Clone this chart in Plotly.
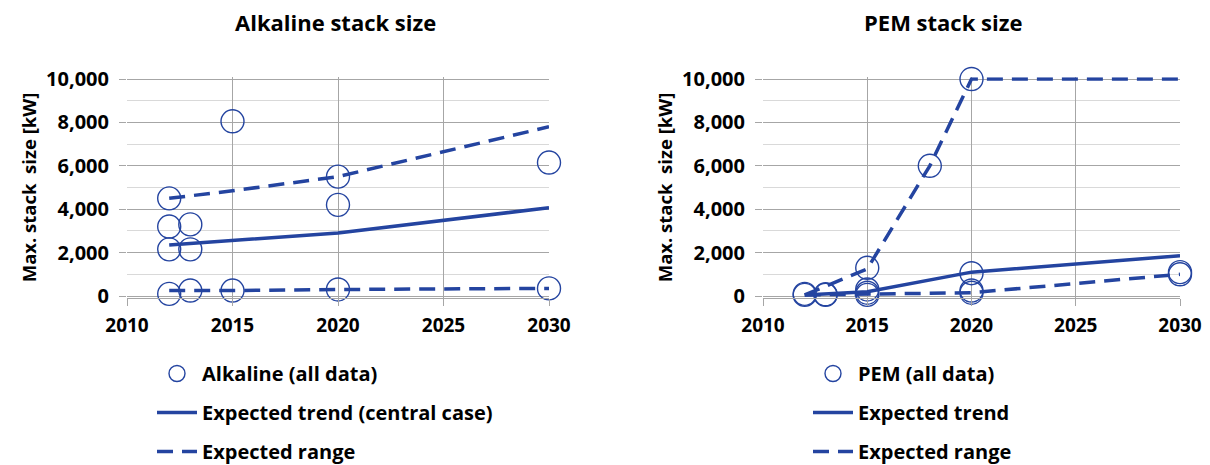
import plotly.graph_objects as go
from plotly.subplots import make_subplots

# ---------------- data ----------------
alk_years = [2012, 2012, 2012, 2012, 2013, 2013, 2013, 2015, 2015, 2020, 2020, 2020, 2030, 2030]
alk_vals = [4500, 3200, 2150, 100, 3300, 2150, 250, 8050, 250, 5500, 4200, 300, 6150, 350]

alk_line_years = [2012, 2015, 2020, 2030]
alk_trend = [2350, 2550, 2900, 4070]
alk_hi = [4500, 4850, 5500, 7800]
alk_lo = [250, 250, 300, 350]

pem_years = [2012, 2012, 2013, 2013, 2015, 2015, 2015, 2015, 2018, 2020, 2020, 2020, 2020, 2030, 2030]
pem_vals = [50, 100, 50, 80, 1300, 300, 150, 50, 6000, 10000, 1050, 250, 150, 1100, 1000]

pem_trend_years = [2012, 2015, 2020, 2030]
pem_trend = [50, 200, 1100, 1850]
pem_hi_years = [2012, 2015, 2018, 2020, 2030]
pem_hi = [50, 1250, 6000, 10000, 10000]
pem_lo_years = [2012, 2015, 2020, 2030]
pem_lo = [50, 100, 150, 1000]

titles = ["Alkaline stack size", "PEM stack size"]
y_title = "Max. stack  size [kW]"
x_ticks = [2010, 2015, 2020, 2025, 2030]
y_ticks = [0, 2000, 4000, 6000, 8000, 10000]

# ---------------- style ----------------
BLUE = "#2444A0"
FONT = "Open Sans"
W, H = 1210, 465
DASH = "16px,9px"
GRID = "#a6a6a6"

def px_x(x):
    return x / W

def px_y(y):
    return 1 - y / H

fig = make_subplots(rows=1, cols=2)

def add_set(col, legend, pts_name, px, py, trend_name, tx, ty, hx, hy, lx, ly):
    fig.add_trace(go.Scatter(
        x=px, y=py, mode="markers", name="<b>" + pts_name + "</b>", legend=legend, legendgroup=legend + "a",
        marker=dict(symbol="circle-open", size=23, color=BLUE, line=dict(width=1.4, color=BLUE)),
        cliponaxis=False), row=1, col=col)
    fig.add_trace(go.Scatter(
        x=tx, y=ty, mode="lines", name="<b>" + trend_name + "</b>", legend=legend, legendgroup=legend + "b",
        line=dict(color=BLUE, width=3.5), cliponaxis=False), row=1, col=col)
    fig.add_trace(go.Scatter(
        x=hx, y=hy, mode="lines", name="<b>Expected range</b>", legend=legend, legendgroup=legend + "c",
        line=dict(color=BLUE, width=3.5, dash=DASH), cliponaxis=False), row=1, col=col)
    fig.add_trace(go.Scatter(
        x=lx, y=ly, mode="lines", name="<b>Expected range</b>", legend=legend, legendgroup=legend + "c",
        showlegend=False, line=dict(color=BLUE, width=3.5, dash=DASH), cliponaxis=False), row=1, col=col)

add_set(1, "legend", "Alkaline (all data)", alk_years, alk_vals,
        "Expected trend (central case)", alk_line_years, alk_trend,
        alk_line_years, alk_hi, alk_line_years, alk_lo)
add_set(2, "legend2", "PEM (all data)", pem_years, pem_vals,
        "Expected trend", pem_trend_years, pem_trend,
        pem_hi_years, pem_hi, pem_lo_years, pem_lo)

x_tick_font = dict(family=FONT, size=19, color="black", weight="bold")
y_tick_font = dict(family=FONT, size=20, color="black", weight="bold")

Y_LO, Y_HI = -80, 10080
px_per = (296 - 79) / 10000.0
xdoms = [[px_x(127), px_x(549)], [px_x(763), px_x(1180)]]
ydom = [px_y(296 + (0 - Y_LO) * px_per), px_y(79 - (Y_HI - 10000) * px_per)]

for i, (xa, ya) in enumerate([("xaxis", "yaxis"), ("xaxis2", "yaxis2")]):
    fig.layout[xa].update(
        domain=xdoms[i], range=[2010, 2030], tickvals=x_ticks, ticktext=["<b>%d</b>" % v for v in x_ticks],
        showgrid=True, gridcolor=GRID, gridwidth=1, showline=True, linecolor=GRID,
        ticks="outside", ticklen=7, tickcolor=GRID, tickfont=x_tick_font, zeroline=False,
        ticklabelstandoff=3, automargin=False)
    fig.layout[ya].update(
        domain=ydom, range=[Y_LO, Y_HI], tickvals=y_ticks,
        ticktext=["<b>{:,}</b>".format(v) for v in y_ticks],
        showgrid=True, gridcolor=GRID, gridwidth=1, showline=False,
        ticks="outside", ticklen=7, tickcolor=GRID, tickfont=y_tick_font, zeroline=False,
        ticklabelstandoff=6,
        minor=dict(tickvals=[1000, 3000, 5000, 7000, 9000], showgrid=True, gridcolor="#d9d9d9", ticks=""),
        automargin=False,
        title=dict(text="<b>" + y_title + "</b>",
                   font=dict(family=FONT, size=18.5, color="black", weight="bold"), standoff=4))

annotations = []
centers = [335, 943]
for t, cx in zip(titles, centers):
    annotations.append(dict(text="<b>" + t + "</b>", x=px_x(cx), y=px_y(22), xref="paper", yref="paper",
                            xanchor="center", yanchor="middle", showarrow=False,
                            font=dict(family=FONT, size=22, color="black", weight="bold")))

legend_common = dict(
    font=dict(family=FONT, size=20, color="black", weight="bold"),
    bgcolor="rgba(0,0,0,0)", traceorder="grouped", tracegroupgap=10,
    itemwidth=40, yanchor="top", xanchor="left", orientation="v")

fig.update_layout(
    width=W, height=H, margin=dict(l=0, r=0, t=0, b=0, autoexpand=False),
    paper_bgcolor="white", plot_bgcolor="white",
    annotations=annotations,
    legend=dict(x=px_x(152), y=px_y(354), **legend_common),
    legend2=dict(x=px_x(808), y=px_y(354), **legend_common),
)

fig.write_html("out.html", config={"displayModeBar": False},
               post_script="document.body.style.margin='0';document.body.style.overflow='hidden';")
